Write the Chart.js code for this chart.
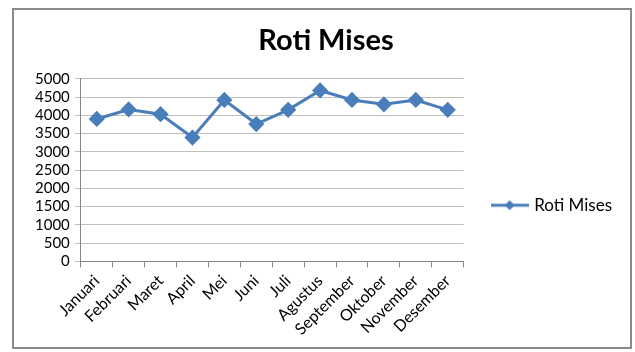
<!DOCTYPE html>
<html>
<head>
<meta charset="utf-8">
<script src="https://cdn.jsdelivr.net/npm/chart.js@4"></script>
<style>
  html, body { margin: 0; padding: 0; background: #fff; }
  #wrap { position: relative; width: 635px; height: 352px; }
  #frame {
    position: absolute; left: 12px; top: 8px; width: 616px; height: 337px;
    border: 2px solid #8a8a8a; pointer-events: none;
  }
</style>
</head>
<body>
<div id="wrap">
  <canvas id="myLineChart" width="635" height="352"></canvas>
  <div id="frame"></div>
</div>
<script>
const months = ['Januari', 'Februari', 'Maret', 'April', 'Mei', 'Juni', 'Juli',
    'Agustus', 'September', 'Oktober', 'November', 'Desember'];
const rotiMises = [3900, 4160, 4030, 3390, 4420, 3760, 4150, 4680, 4420, 4300, 4420, 4150];
const seriesName = 'Roti Mises';
const chartTitle = 'Roti Mises';
const lineColor = '#4A7EBB';

// legend marker: short line with a diamond, like the spreadsheet legend
const marker = document.createElement('canvas');
marker.width = 38;
marker.height = 14;
const mctx = marker.getContext('2d');
mctx.strokeStyle = lineColor;
mctx.lineWidth = 3;
mctx.beginPath();
mctx.moveTo(0, 7);
mctx.lineTo(38, 7);
mctx.stroke();
mctx.fillStyle = lineColor;
mctx.beginPath();
mctx.moveTo(19, 2);
mctx.lineTo(24, 7);
mctx.lineTo(19, 12);
mctx.lineTo(14, 7);
mctx.closePath();
mctx.fill();

Chart.defaults.font.family = 'Lato, "Open Sans", sans-serif';
Chart.defaults.color = '#000';

const ctx = document.getElementById('myLineChart').getContext('2d');
const myLineChart = new Chart(ctx, {
    type: 'line',
    data: {
        labels: months,
        datasets: [{
            label: seriesName,
            data: rotiMises,
            borderColor: lineColor,
            backgroundColor: lineColor,
            borderWidth: 3,
            pointStyle: 'rectRot',
            pointRadius: 6,
            pointHoverRadius: 6,
            tension: 0
        }]
    },
    options: {
        responsive: false,
        animation: false,
        layout: {
            padding: { left: 30, right: 13, top: 0, bottom: 9 }
        },
        plugins: {
            title: {
                display: true,
                text: chartTitle,
                font: { size: 29, weight: 'bold' },
                color: '#000',
                padding: { top: 23, bottom: 21 }
            },
            legend: {
                position: 'right',
                maxWidth: 220,
                title: {
                    display: true,
                    text: '',
                    padding: { top: 53, bottom: 0 }
                },
                labels: {
                    usePointStyle: true,
                    pointStyle: marker,
                    pointStyleWidth: 32,
                    padding: 30,
                    font: { size: 17 },
                    color: '#000'
                }
            },
            tooltip: { enabled: false }
        },
        scales: {
            x: {
                offset: true,
                grid: {
                    offset: true,
                    drawOnChartArea: false,
                    color: '#868686',
                    tickLength: 6
                },
                border: { color: '#868686' },
                ticks: {
                    minRotation: 45,
                    maxRotation: 45,
                    autoSkip: false,
                    font: { size: 16 },
                    color: '#000',
                    padding: 4
                }
            },
            y: {
                min: 0,
                max: 5000,
                grid: {
                    color: '#bfbfbf',
                    tickLength: 6
                },
                border: { color: '#868686' },
                ticks: {
                    stepSize: 500,
                    autoSkip: false,
                    font: { size: 15 },
                    color: '#000',
                    padding: 5,
                    callback: (value) => String(value)
                }
            }
        }
    }
});
</script>
</body>
</html>
